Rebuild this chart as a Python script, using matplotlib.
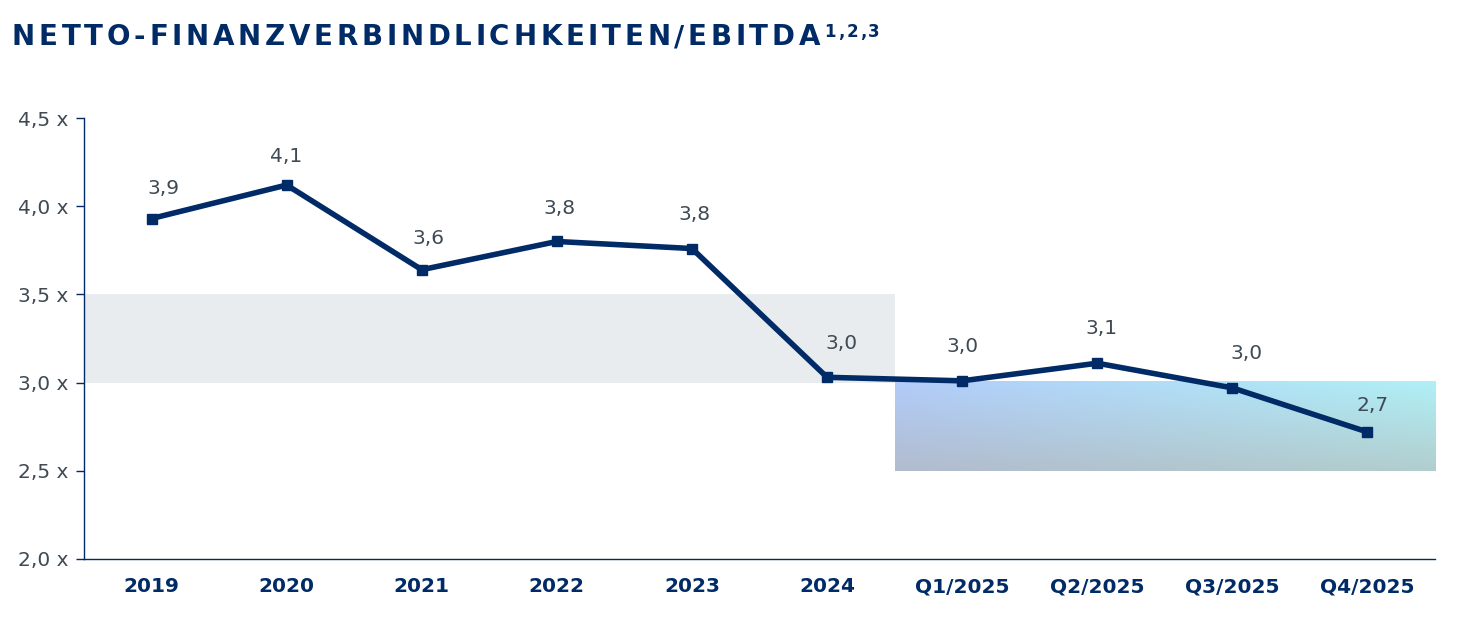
import numpy as np
import matplotlib
matplotlib.use("Agg")
import matplotlib.pyplot as plt

categories = ["2019", "2020", "2021", "2022", "2023", "2024",
              "Q1/2025", "Q2/2025", "Q3/2025", "Q4/2025"]
values = [3.93, 4.12, 3.64, 3.80, 3.76, 3.03, 3.01, 3.11, 2.97, 2.72]
labels = ["3,9", "4,1", "3,6", "3,8", "3,8", "3,0", "3,0", "3,1", "3,0", "2,7"]
yticks = [2.0, 2.5, 3.0, 3.5, 4.0, 4.5]
ytick_labels = ["2,0 x", "2,5 x", "3,0 x", "3,5 x", "4,0 x", "4,5 x"]

# label offsets in pixels (styling)
label_dx = [12, -1, 7, 3, 3, 14, 0, 4, 14, 5]
label_dy = [30, 29, 31, 33, 34, 34, 34, 35, 34, 26]

NAVY = "#002b66"
GRAY_TXT = "#3f4a54"
W, H = 1465, 643

fig = plt.figure(figsize=(W / 100, H / 100), dpi=100)
ax = fig.add_axes([84/W, 1 - 559/H, (1435-84)/W, (559-118)/H])

x = np.arange(len(categories))

# gray band (historic target range)
ax.fill_between([-0.5, 5.5], 3.0, 3.5, color="#e9ecef", linewidth=0, zorder=0)

# gradient band (target range)
tl = np.array([178, 204, 250]) / 255
tr = np.array([176, 240, 246]) / 255
bl = np.array([178, 188, 206]) / 255
br = np.array([178, 206, 206]) / 255
nx, ny = 200, 60
u = np.linspace(0, 1, nx)[None, :, None]
v = np.linspace(0, 1, ny)[:, None, None]
top = tl * (1 - u) + tr * u
bot = bl * (1 - u) + br * u
img = top * (1 - v) + bot * v
ax.imshow(img, extent=[5.5, 9.52, 2.5, 3.01], aspect="auto", zorder=0,
          interpolation="bilinear", origin="upper")
ax.set_xlim(-0.5, len(categories) - 0.5)
ax.set_ylim(2.0, 4.5)

ax.plot(x, values, color=NAVY, linewidth=4.0, marker="s", markersize=7.5,
        zorder=3, solid_joinstyle="round")

for xi, vi, lab, dx, dy in zip(x, values, labels, label_dx, label_dy):
    ax.annotate(lab, (xi, vi), xytext=(dx * 0.72, dy * 0.72),
                textcoords="offset points",
                ha="center", va="center", fontsize=14.5, color=GRAY_TXT)

ax.set_xticks(x)
ax.set_xticklabels(categories, fontsize=14.5, fontweight="bold", color=NAVY)
ax.tick_params(axis="x", length=0, pad=13)
ax.set_yticks(yticks)
ax.set_yticklabels(ytick_labels, fontsize=14.5, color=GRAY_TXT)
ax.tick_params(axis="y", length=6, width=1, color=NAVY, pad=5)

for s in ["top", "right"]:
    ax.spines[s].set_visible(False)
for s in ["left", "bottom"]:
    ax.spines[s].set_color(NAVY)
    ax.spines[s].set_linewidth(1)


def spaced_text(s, x0, x1, yc, fontsize):
    """Draw string s letter by letter from pixel x0 to x1 (letter-spaced)."""
    renderer = fig.canvas.get_renderer()
    arts, widths = [], []
    for ch in s:
        t = fig.text(0, 1 - yc / H, ch, fontsize=fontsize, fontweight="bold",
                     color=NAVY, va="center", ha="left")
        widths.append(t.get_window_extent(renderer).width)
        arts.append(t)
    gap = (x1 - x0 - sum(widths)) / (len(s) - 1)
    xp = x0
    for t, w in zip(arts, widths):
        t.set_x(xp / W)
        xp += w + gap


spaced_text("NETTO-FINANZVERBINDLICHKEITEN/EBITDA", 12, 820, 37, 20)
spaced_text("1,2,3", 824, 880, 32, 12)

fig.savefig("out.png", dpi=100)
